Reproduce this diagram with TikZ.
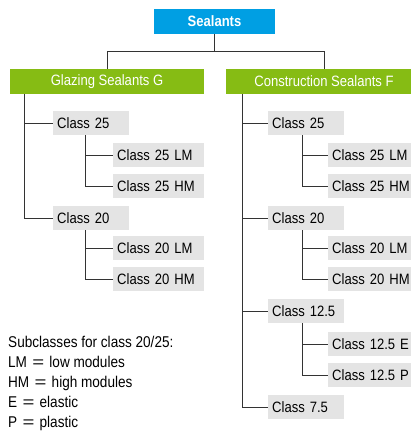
\documentclass[tikz,border=0pt]{standalone}
\usepackage{fontspec}
\setmainfont[FakeStretch=0.87]{Liberation Sans}
\definecolor{skyb}{HTML}{009FE3}
\definecolor{leaf}{HTML}{86BC14}
\definecolor{boxg}{HTML}{E4E4E4}
\definecolor{lineg}{HTML}{333333}
\newcommand\myeq{\hspace{1.5pt}\scalebox{1.5}[1]{=}\hspace{1.5pt}}
\begin{document}
\begin{tikzpicture}[x=1pt,y=-1pt,
  font=\fontsize{15}{18}\selectfont,
  topbox/.style={fill=skyb, text=white, font=\fontsize{15}{18}\selectfont\bfseries,
    minimum width=121pt, minimum height=25pt, inner sep=0pt},
  grpbox/.style={fill=leaf, text=white, minimum height=25pt, inner sep=0pt},
  mainbox/.style={fill=boxg, anchor=west, text width=68pt, align=left,
    inner xsep=4pt, inner ysep=0pt, minimum height=24pt},
  subbox/.style={fill=boxg, anchor=west, text width=83pt, align=left,
    inner xsep=4pt, inner ysep=0pt, minimum height=24pt},
  link/.style={draw=lineg, line width=1pt},
  legend/.style={anchor=base west, inner sep=0pt, font=\fontsize{15.6}{18}\selectfont}]
\useasboundingbox (0,0) rectangle (411,432);

% top
\node[topbox] (seal) at (214.5,21.5) {Sealants};
\node[grpbox, minimum width=194pt] (glz) at (107,81.5) {Glazing Sealants G};
\node[grpbox, minimum width=196pt] (con) at (324,81.5) {Construction Sealants F};
\draw[link] (seal.south) -- ++(0,17) coordinate (fork);
\draw[link] (glz.north) |- (fork) -| (con.north);

% glazing side
\node[mainbox] (g25) at (53,123) {Class 25};
\node[subbox] (g25lm) at (113,155) {Class 25 LM};
\node[subbox] (g25hm) at (113,186) {Class 25 HM};
\node[mainbox] (g20) at (53,218) {Class 20};
\node[subbox] (g20lm) at (113,248) {Class 20 LM};
\node[subbox] (g20hm) at (113,279) {Class 20 HM};

\draw[link] (glz.south west) ++(15,0) coordinate (gv) |- (g20.west);
\draw[link] (gv) |- (g25.west);
\draw[link] (g25.south west) ++(32,0) coordinate (g25v) |- (g25hm.west);
\draw[link] (g25v) |- (g25lm.west);
\draw[link] (g20.south west) ++(32,0) coordinate (g20v) |- (g20hm.west);
\draw[link] (g20v) |- (g20lm.west);

% construction side
\node[mainbox] (c25) at (268,123) {Class 25};
\node[subbox] (c25lm) at (328,155) {Class 25 LM};
\node[subbox] (c25hm) at (328,186) {Class 25 HM};
\node[mainbox] (c20) at (268,218) {Class 20};
\node[subbox] (c20lm) at (328,248) {Class 20 LM};
\node[subbox] (c20hm) at (328,279) {Class 20 HM};
\node[mainbox] (c12) at (268,311) {Class 12.5};
\node[subbox] (c12e) at (328,344) {Class 12.5 E};
\node[subbox] (c12p) at (328,375) {Class 12.5 P};
\node[mainbox] (c7) at (268,407) {Class 7.5};

\draw[link] (con.south west) ++(17,0) coordinate (cv) |- (c7.west);
\draw[link] (cv) |- (c25.west);
\draw[link] (cv) |- (c20.west);
\draw[link] (cv) |- (c12.west);
\draw[link] (c25.south west) ++(34,0) coordinate (c25v) |- (c25hm.west);
\draw[link] (c25v) |- (c25lm.west);
\draw[link] (c20.south west) ++(34,0) coordinate (c20v) |- (c20hm.west);
\draw[link] (c20v) |- (c20lm.west);
\draw[link] (c12.south west) ++(34,0) coordinate (c12v) |- (c12p.west);
\draw[link] (c12v) |- (c12e.west);

% legend
\node[legend] (lg0) at (8,347) {Subclasses for class 20/25:};
\node[legend] (lg1) at (8,367) {LM \myeq{} low modules};
\node[legend] (lg2) at (8,387) {HM \myeq{} high modules};
\node[legend] (lg3) at (8,407) {E \myeq{} elastic};
\node[legend] (lg4) at (8,427) {P \myeq{} plastic};
\end{tikzpicture}
\end{document}
